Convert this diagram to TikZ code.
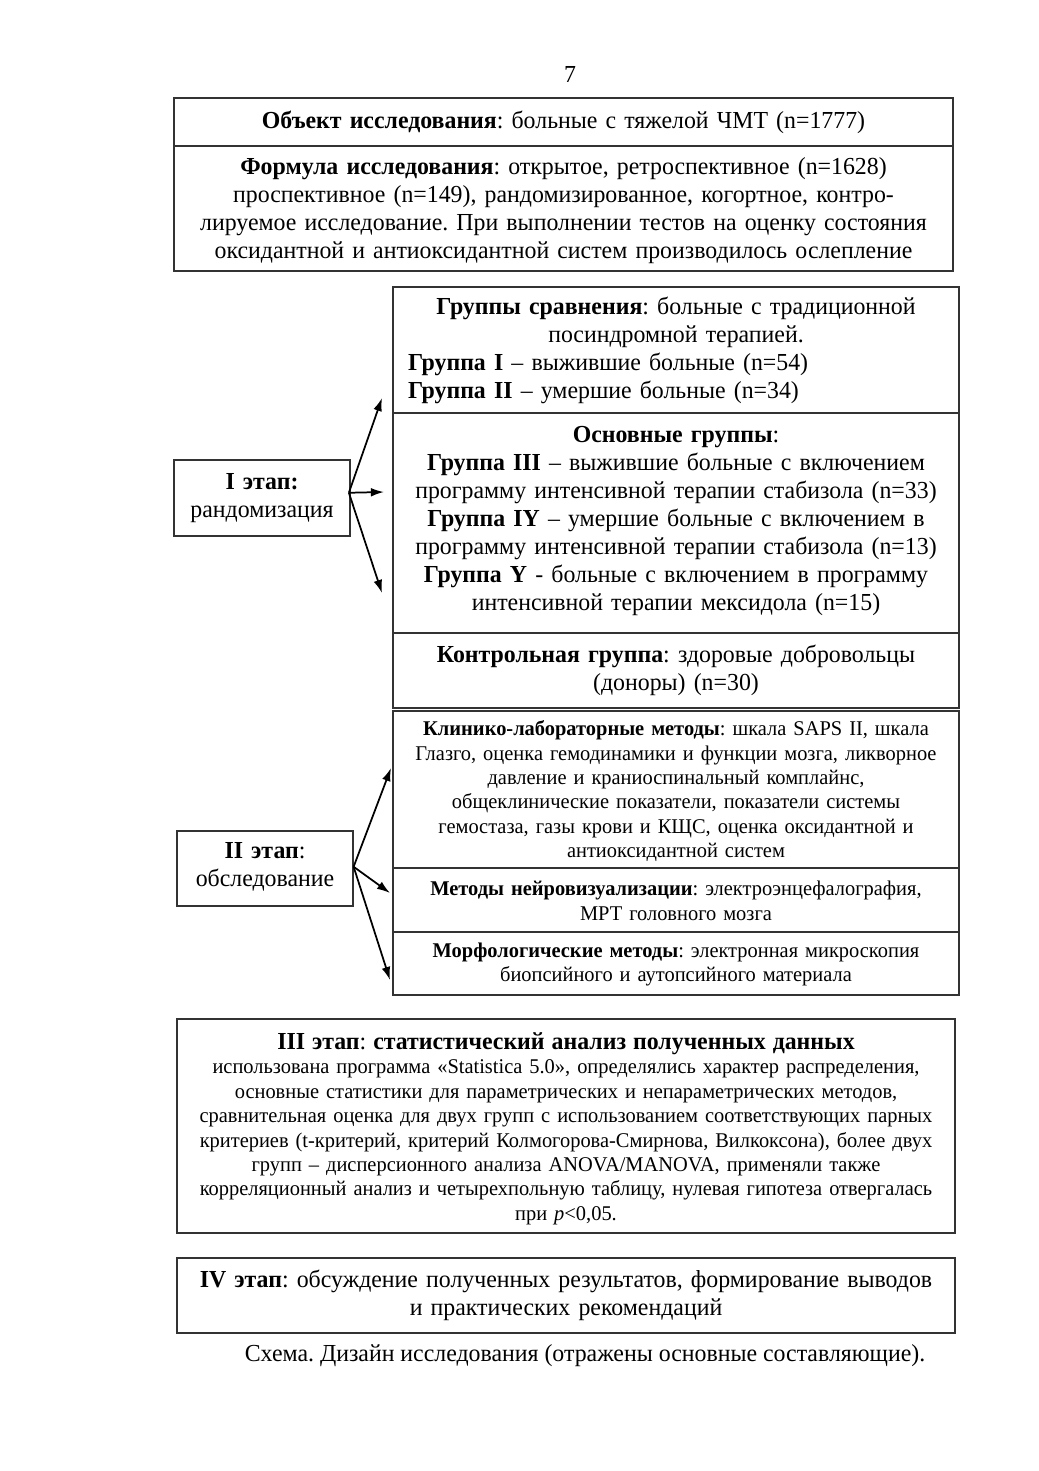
\documentclass[tikz,border=0pt]{standalone}
\usepackage{fontspec}
\setmainfont[FakeStretch=0.975]{Liberation Serif}
\usetikzlibrary{arrows.meta}
\setlength{\parindent}{0pt}
\frenchspacing
\newcommand\mkcell[5]{\node[cell, minimum width={(#4-#2)*0.5727pt}, minimum height={(#5-#3)*0.5727pt}] (#1) at ({(#2+#4)/2},{(#3+#5)/2}) {};}
\begin{document}
\frenchspacing
\begin{tikzpicture}[x=0.5727pt,y=-0.5727pt,
  cell/.style={draw=black!80, line width=0.7pt, inner sep=0pt},
  tbig/.style={inner sep=0pt, font=\fontsize{14}{16}\selectfont, align=center},
  tsmall/.style={inner sep=0pt, font=\fontsize{12}{14}\selectfont, align=center},
  arr/.style={line width=1pt, -{Latex[length=7.5pt,width=5pt]}}]
\useasboundingbox (0,0) rectangle (1039,1471);
\fill[white] (0,0) rectangle (1039,1471);

\node[tbig] (pg) at (570,75) {7};

\mkcell{obj}{174}{98}{953}{146}
\mkcell{form}{174}{146}{953}{271}
\mkcell{cmp}{393}{287}{959}{413}
\mkcell{main}{393}{413}{959}{633}
\mkcell{ctrl}{393}{633}{959}{708}
\mkcell{st1}{174}{460}{350}{536}
\mkcell{clin}{393}{711}{959}{868}
\mkcell{neuro}{393}{868}{959}{932}
\mkcell{morph}{393}{932}{959}{995}
\mkcell{st2}{177}{831}{353}{906}
\mkcell{st3}{177}{1019}{955}{1233}
\mkcell{st4}{177}{1258}{955}{1333}

\node[tbig, text width={770*0.5727pt}] (objT) at (obj.center) {\textbf{Объект исследования}: больные с тяжелой ЧМТ (n=1777)};
\node[tbig, text width={770*0.5727pt}] (formT) at ([yshift=-1pt]form.center) {\textbf{Формула исследования}: открытое, ретроспективное (n=1628)\\
проспективное (n=149), рандомизированное, когортное, контро-\\
лируемое исследование. При выполнении тестов на оценку состояния\\
оксидантной и антиоксидантной систем производилось ослепление};

\node[inner sep=0pt, font=\fontsize{14}{16}\selectfont, text width={536*0.5727pt}] (cmpT) at (cmp.center) {{\centering\textbf{Группы сравнения}: больные с традиционной\\
посиндромной терапией.\par}\raggedright
\textbf{Группа I} – выжившие больные (n=54)\\
\textbf{Группа II} – умершие больные (n=34)\par};

\node[tbig, text width={560*0.5727pt}] (mainT) at ([yshift=1pt]main.center) {\textbf{Основные группы}:\\
\textbf{Группа III} – выжившие больные с включением\\
программу интенсивной терапии стабизола (n=33)\\
\textbf{Группа IY} – умершие больные с включением в\\
программу интенсивной терапии стабизола (n=13)\\
\textbf{Группа Y} - больные с включением в программу\\
интенсивной терапии мексидола (n=15)};

\node[tbig, text width={560*0.5727pt}] (ctrlT) at (ctrl.center) {\textbf{Контрольная группа}: здоровые добровольцы\\
(доноры) (n=30)};

\node[tbig, text width={172*0.5727pt}] (st1T) at (st1.center) {\textbf{I этап:}\\ рандомизация};

\node[tsmall, text width={560*0.5727pt}] (clinT) at ([yshift=-1pt]clin.center) {\textbf{Клинико-лабораторные методы}: шкала SAPS II, шкала\\
Глазго, оценка гемодинамики и функции мозга, ликворное\\
давление и краниоспинальный комплайнс,\\
общеклинические показатели, показатели системы\\
гемостаза, газы крови и КЩС, оценка оксидантной и\\
антиоксидантной систем};

\node[tsmall, text width={560*0.5727pt}] (neuroT) at ([yshift=-0.5pt]neuro.center) {\textbf{Методы нейровизуализации}: электроэнцефалография,\\
МРТ головного мозга};

\node[tsmall, text width={560*0.5727pt}] (morphT) at ([yshift=-0.5pt]morph.center) {\textbf{Морфологические методы}: электронная микроскопия\\
биопсийного и аутопсийного материала};

\node[tbig, text width={172*0.5727pt}] (st2T) at ([yshift=1pt]st2.center) {\textbf{II этап}:\\ обследование};

\node[tsmall, text width={770*0.5727pt}] (st3T) at ([yshift=-1.5pt]st3.center) {{\fontsize{14}{16}\selectfont\textbf{III этап}: \textbf{статистический анализ полученных данных}}\\
использована программа «Statistica 5.0», определялись характер распределения,\\
основные статистики для параметрических и непараметрических методов,\\
сравнительная оценка для двух групп с использованием соответствующих парных\\
критериев (t-критерий, критерий Колмогорова-Смирнова, Вилкоксона), более двух\\
групп – дисперсионного анализа ANOVA/MANOVA, применяли также\\
корреляционный анализ и четырехпольную таблицу, нулевая гипотеза отвергалась\\
при \textit{p}<0,05.};

\node[tbig, text width={770*0.5727pt}] (st4T) at (st4.center) {\textbf{IV этап}: обсуждение полученных результатов, формирование выводов\\
и практических рекомендаций};

\node[tbig] (cap) at (585,1356) {Схема. Дизайн исследования (отражены основные составляющие).};

\coordinate (e1a) at (382,398);
\coordinate (e1b) at (384,492);
\coordinate (e1c) at (382,593);
\coordinate (e2a) at (391,768);
\coordinate (e2b) at (390,893);
\coordinate (e2c) at (390,980);
\draw[arr] ([xshift=-1pt,yshift=3pt]st1.east) -- (e1a);
\draw[arr] ([xshift=-1pt,yshift=3pt]st1.east) -- (e1b);
\draw[arr] ([xshift=-1pt,yshift=3pt]st1.east) -- (e1c);
\draw[arr] ([yshift=1pt]st2.east) -- (e2a);
\draw[arr] ([yshift=1pt]st2.east) -- (e2b);
\draw[arr] ([yshift=1pt]st2.east) -- (e2c);
\end{tikzpicture}
\end{document}
